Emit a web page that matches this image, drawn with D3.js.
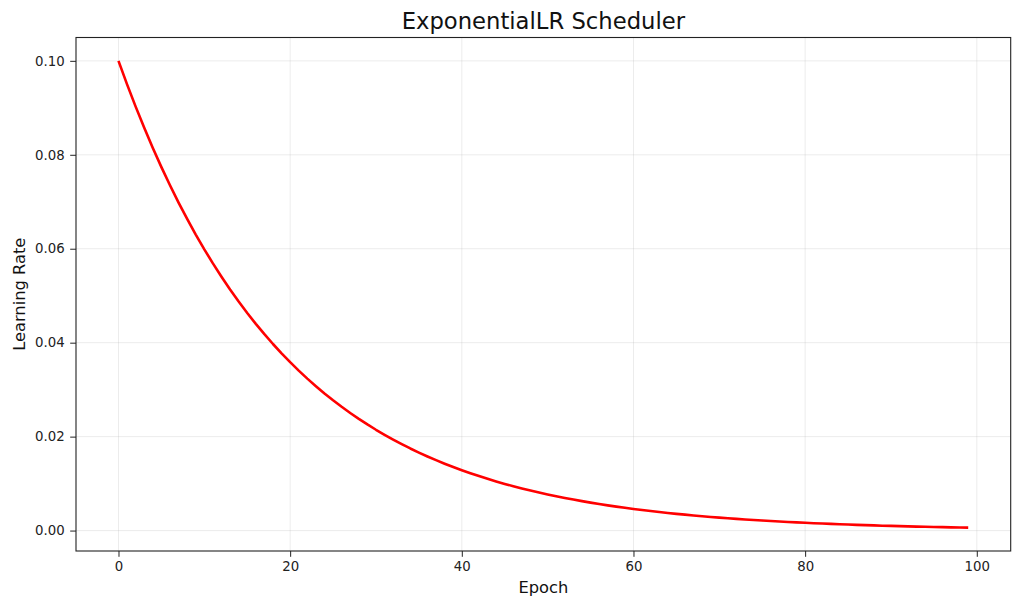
<!DOCTYPE html>
<html><head><meta charset="utf-8">
<script src="https://cdn.jsdelivr.net/npm/d3@7"></script>
<style>body{margin:0;background:#fff;}svg{display:block;font-family:"DejaVu Sans",sans-serif;}</style>
</head><body><svg id="c" width="1024" height="613"></svg>
<script>
const epochs = d3.range(0, 100);
const learningRates = [0.1,0.095,0.09025,0.08574,0.08145,0.07738,0.07351,0.06983,0.06634,0.06302,
0.05987,0.05688,0.05404,0.05133,0.04877,0.04633,0.04401,0.04181,0.03972,0.03774,
0.03585,0.03406,0.03235,0.03074,0.02920,0.02774,0.02635,0.02503,0.02378,0.02259,
0.02146,0.02039,0.01937,0.01840,0.01748,0.01661,0.01578,0.01499,0.01424,0.01353,
0.01285,0.01221,0.01160,0.01102,0.01047,0.00994,0.00945,0.00897,0.00853,0.00810,
0.00769,0.00731,0.00694,0.00660,0.00627,0.00595,0.00566,0.00537,0.00510,0.00485,
0.00461,0.00438,0.00416,0.00395,0.00375,0.00356,0.00339,0.00322,0.00306,0.00290,
0.00276,0.00262,0.00249,0.00237,0.00225,0.00213,0.00203,0.00193,0.00183,0.00174,
0.00165,0.00157,0.00149,0.00142,0.00135,0.00128,0.00121,0.00115,0.00110,0.00104,
0.00099,0.00094,0.00089,0.00085,0.00081,0.00077,0.00073,0.00069,0.00066,0.00062];
const xTicks = [0,20,40,60,80,100];
const yTicks = [0,0.02,0.04,0.06,0.08,0.10];
const title = "ExponentialLR Scheduler";
const xLabel = "Epoch";
const yLabel = "Learning Rate";

const svg = d3.select("#c");
const L = 76, R = 1010.7, T = 37.5, B = 551;
const xmin = d3.min(epochs), xmax = d3.max(epochs);
const ymin = d3.min(learningRates), ymax = d3.max(learningRates);
const xm = (xmax - xmin) * 0.05, ym = (ymax - ymin) * 0.05;
const x = d3.scaleLinear().domain([xmin - xm, xmax + xm]).range([L, R]);
const y = d3.scaleLinear().domain([ymin - ym, ymax + ym]).range([B, T]);

const grid = svg.append("g");
grid.selectAll(".gx").data(xTicks).enter().append("line")
  .attr("x1", d => x(d)).attr("x2", d => x(d)).attr("y1", T).attr("y2", B)
  .attr("stroke", "#b0b0b0").attr("stroke-opacity", 0.3).attr("stroke-width", 0.8);
grid.selectAll(".gy").data(yTicks).enter().append("line")
  .attr("y1", d => y(d)).attr("y2", d => y(d)).attr("x1", L).attr("x2", R)
  .attr("stroke", "#b0b0b0").attr("stroke-opacity", 0.3).attr("stroke-width", 0.8);

const xAxis = svg.append("g").attr("transform", `translate(0,${B})`)
  .call(d3.axisBottom(x).tickValues(xTicks).tickFormat(d3.format("d")).tickSize(5.8).tickPadding(4.5));
const yAxis = svg.append("g").attr("transform", `translate(${L},0)`)
  .call(d3.axisLeft(y).tickValues(yTicks).tickFormat(d3.format(".2f")).tickSize(5.8).tickPadding(5.6));
[xAxis, yAxis].forEach(a => {
  a.select(".domain").remove();
  a.selectAll("line").attr("stroke", "#222").attr("stroke-width", 1);
  a.selectAll("text").attr("fill", "#222").style("font-size", "13.3px").style("font-family", "DejaVu Sans");
});

svg.append("path").datum(epochs)
  .attr("fill", "none").attr("stroke", "#ff0000").attr("stroke-width", 2.6)
  .attr("stroke-linejoin", "round").attr("stroke-linecap", "butt")
  .attr("d", d3.line().x(d => x(d)).y((d, i) => y(learningRates[i])));

svg.append("rect").attr("x", L).attr("y", T).attr("width", R - L).attr("height", B - T)
  .attr("fill", "none").attr("stroke", "#222").attr("stroke-width", 1.1);

svg.append("text").attr("x", (L + R) / 2).attr("y", 29).attr("text-anchor", "middle")
  .attr("fill", "#111").style("font-size", "22.7px").text(title);
svg.append("text").attr("x", (L + R) / 2).attr("y", 593).attr("text-anchor", "middle")
  .attr("fill", "#111").style("font-size", "16.3px").text(xLabel);
svg.append("text").attr("transform", `translate(25,${(T + B) / 2}) rotate(-90)`).attr("text-anchor", "middle")
  .attr("fill", "#111").style("font-size", "16.3px").text(yLabel);
</script></body></html>
